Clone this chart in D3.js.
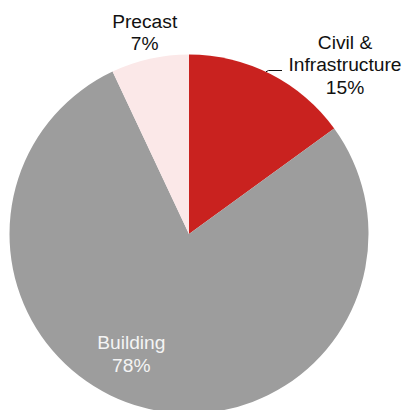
<!DOCTYPE html>
<html>
<head>
<meta charset="utf-8">
<script src="https://cdn.jsdelivr.net/npm/d3@7"></script>
<style>
  html, body { margin: 0; padding: 0; background: #ffffff; overflow: hidden; }
  svg { display: block; }
  text { font-family: "Liberation Sans", Arial, sans-serif; }
</style>
</head>
<body>
<svg id="chart" width="406" height="410"></svg>
<script>
// Segment share of revenue (%)
const categories = ["Civil & Infrastructure", "Building", "Precast"];
const shares = [15, 78, 7];
const labelLines = [["Civil &", "Infrastructure", "15%"], ["Building", "78%"], ["Precast", "7%"]];
const colors = ["#c9221f", "#9d9d9d", "#fbe8e8"];
const textColors = ["#111111", "#f4f4f4", "#111111"];

const width = 406, height = 410;
const cx = 189, cy = 234, radius = 179.5;

const svg = d3.select("#chart");
const g = svg.append("g").attr("transform", `translate(${cx},${cy})`);

const data = categories.map((c, i) => ({ name: c, value: shares[i], lines: labelLines[i], color: colors[i], text: textColors[i] }));

const pie = d3.pie().sort(null).value(d => d.value);
const arc = d3.arc().innerRadius(0).outerRadius(radius);
const arcs = pie(data);

g.selectAll("path.slice")
  .data(arcs)
  .enter().append("path")
  .attr("class", "slice")
  .attr("d", arc)
  .attr("fill", d => d.data.color);

// Label anchors (centre x, first baseline y) relative to the pie centre
const labelPos = [
  { x: 156, y: -185.5 },
  { x: -57.7, y: 115 },
  { x: -44.3, y: -206.3 }
];
const lineHeight = 22.5;

arcs.forEach((a, i) => {
  const t = g.append("text")
    .attr("text-anchor", "middle")
    .attr("font-size", "19.2px")
    .attr("fill", a.data.text);
  a.data.lines.forEach((ln, j) => {
    t.append("tspan")
      .attr("x", labelPos[i].x)
      .attr("y", labelPos[i].y + j * lineHeight)
      .text(ln);
  });
});

// Leader line from the Civil & Infrastructure slice edge to its label
const civilEdgeAngle = (arcs[0].startAngle + arcs[0].endAngle) / 2 * 0.94;
const edge = [Math.sin(civilEdgeAngle) * radius, -Math.cos(civilEdgeAngle) * radius];
g.append("path")
  .attr("d", d3.line()([
    edge,
    [edge[0] + 2.5, -163.5],
    [93, -163.5]
  ]))
  .attr("fill", "none")
  .attr("stroke", "#111111")
  .attr("stroke-width", 1);
</script>
</body>
</html>
